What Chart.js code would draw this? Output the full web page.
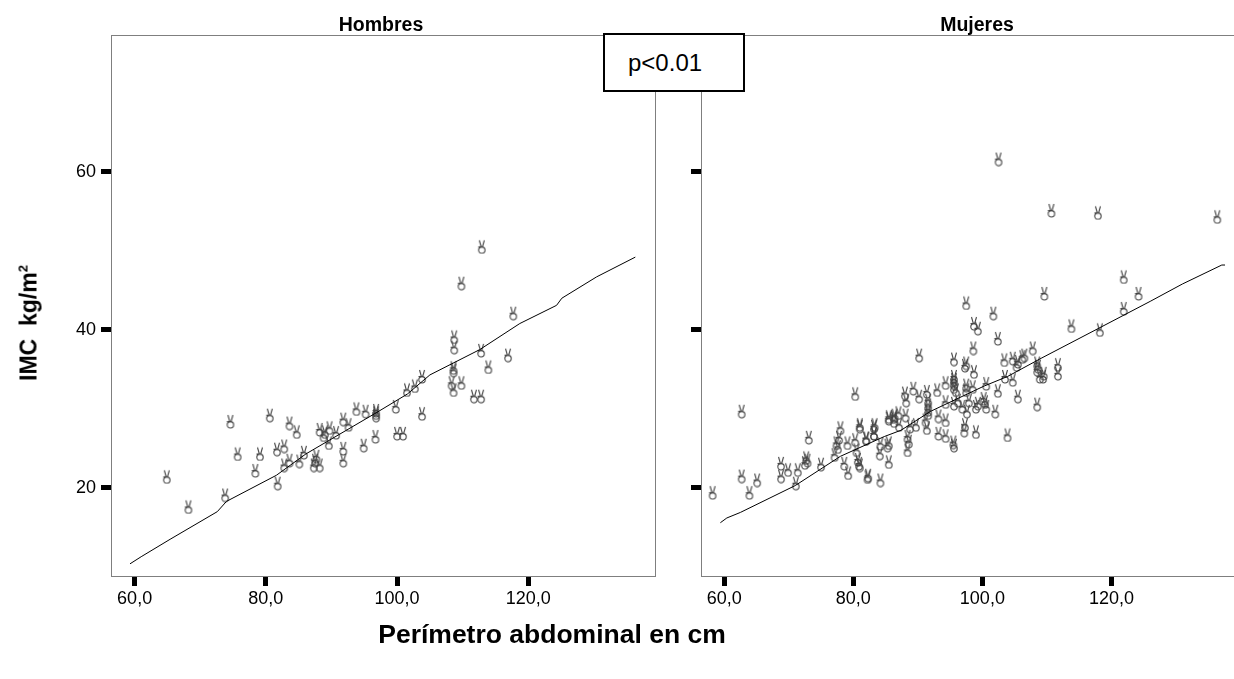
<!DOCTYPE html>
<html><head><meta charset="utf-8">
<script src="https://cdn.jsdelivr.net/npm/chart.js@4/dist/chart.umd.min.js"></script>
<style>
html,body{margin:0;padding:0;background:#fff;overflow:hidden;width:1234px;height:679px;}
#wrap{position:relative;width:1234px;height:679px;overflow:hidden;font-family:"Liberation Sans",Arial,sans-serif;}
canvas{position:absolute;left:0;top:0;}
.t{position:absolute;font-weight:bold;color:#000;white-space:nowrap;}
#pbox{position:absolute;left:603px;top:33px;width:138px;height:55px;border:2px solid #000;background:#fff;z-index:5;font-size:24px;line-height:55px;text-indent:23px;}
</style></head><body>
<div id="wrap">
<div style="position:absolute;left:0;top:0;width:680px;height:679px"><canvas id="c1" width="680" height="679"></canvas></div>
<div style="position:absolute;left:600px;top:0;width:700px;height:679px"><canvas id="c2" width="700" height="679"></canvas></div>
<div class="t" style="left:381px;top:13px;font-size:19.5px;transform:translateX(-50%)">Hombres</div>
<div class="t" style="left:977px;top:13px;font-size:19.5px;transform:translateX(-50%)">Mujeres</div>
<div id="pbox">p&lt;0.01</div>
<div class="t" style="left:29px;top:323px;font-size:23px;transform:translate(-50%,-50%) rotate(-90deg)">IMC&nbsp;&nbsp;kg/m<sup style="font-size:13px">2</sup></div>
<div class="t" style="left:552px;top:619px;font-size:26.5px;transform:translateX(-50%)">Perímetro abdominal en cm</div>
</div>
<script>
// ---- data ----
const xTicks = [60, 80, 100, 120];
const yTicks = [20, 40, 60];
const menPoints = [
 [64.9,21.4],[68.2,17.6],[74.6,28.4],[73.8,19.1],[75.7,24.3],[80.6,29.2],[78.4,22.2],[79.1,24.3],
 [81.8,20.6],[81.7,24.9],[82.8,25.3],[83.6,28.2],[84.7,27.1],[82.8,22.9],[83.6,23.5],[85.1,23.4],
 [85.8,24.5],[87.5,23.5],[87.3,22.9],[88.2,22.9],[87.7,24.0],[88.2,27.4],[89.0,27.1],[89.7,27.6],
 [88.8,26.7],[90.7,27.0],[89.6,25.7],[91.8,28.7],[92.6,28.0],[93.8,30.0],[95.2,29.7],[96.8,29.2],
 [96.8,29.5],[96.8,29.8],[91.8,25.0],[91.8,23.5],[94.9,25.4],[96.7,26.5],[99.8,30.3],[100.0,26.9],
 [100.9,26.9],[101.5,32.4],[112.9,50.5],[109.8,45.9],[117.7,42.1],[108.7,39.1],[108.7,37.8],[112.8,37.4],
 [116.9,36.8],[113.9,35.3],[108.6,34.9],[108.6,35.2],[108.3,33.3],[109.8,33.3],[108.6,32.4],[111.7,31.6],
 [112.8,31.6],[103.8,34.1],[102.7,32.9],[103.8,29.4]
];
const womenPoints = [
 [58.2,19.4],[62.7,29.7],[62.7,21.5],[63.9,19.4],[65.1,21.0],[68.8,23.1],[68.8,21.5],[69.9,22.3],
 [71.1,20.6],[71.4,22.3],[72.9,23.5],[72.7,23.8],[72.5,23.2],[73.1,26.4],[75.0,23.0],[78.0,27.6],
 [77.4,25.7],[77.8,26.4],[77.6,25.2],[77.1,24.2],[79.1,25.7],[78.6,23.1],[79.2,21.9],[80.3,31.9],
 [80.3,26.1],[81.0,28.0],[80.5,24.8],[80.9,23.1],[80.7,23.6],[81.0,22.9],[82.2,21.4],[82.3,21.6],
 [82.0,26.3],[83.3,28.0],[83.2,26.9],[84.1,24.4],[84.2,21.0],[85.5,23.3],[85.3,25.4],[85.5,29.0],
 [86.4,29.2],[86.3,28.5],[87.0,29.5],[87.1,28.0],
 [90.2,36.8],[97.5,43.4],[101.7,42.1],[98.7,40.8],[99.3,40.2],[102.4,38.9],[98.6,37.7],[95.6,36.3],
 [97.5,35.8],[97.3,35.5],[98.7,34.7],[103.4,36.2],[104.7,36.4],[106.2,36.6],[107.8,37.7],[108.6,35.4],
 [103.5,34.1],[104.7,33.7],[105.5,36.0],[100.6,33.2],[102.4,32.3],[105.5,31.6],[108.5,30.6],[102.0,29.7],
 [103.9,26.7],
 [95.6,34.1],[95.6,33.7],[95.6,33.3],[95.6,32.8],[95.9,32.4],[94.3,33.3],[93.0,32.4],[91.4,32.2],
 [90.2,31.6],[89.3,32.6],[88.0,32.0],[88.2,31.1],[91.6,31.1],[91.6,30.5],[91.6,29.9],[91.6,29.5],
 [91.2,28.6],[91.4,27.6],[94.3,30.9],[95.6,30.7],[96.2,31.1],[97.5,32.4],[97.5,33.0],[97.9,31.1],
 [98.5,32.8],[99.3,30.7],[100.4,30.9],[100.6,30.3],[100.2,31.3],[97.3,28.0],[97.2,27.3],[99.0,27.1],
 [95.6,25.4],[95.5,25.8],[94.3,26.6],[93.2,26.9],[94.3,28.6],[93.2,29.1],[89.7,28.0],[88.8,27.8],
 [88.1,29.2],[86.3,29.0],[85.5,28.8],[88.4,26.5],[88.4,24.8],[88.6,25.9],[85.5,25.7],[84.2,25.6],
 [83.2,27.8],[83.2,26.9],[81.0,27.8],[82.0,26.3],[108.9,34.1],[99.0,30.3],[96.9,30.3],[97.6,29.7],
 [102.5,61.6],[110.7,55.1],[117.9,54.8],[136.4,54.3],[121.9,46.7],[124.2,44.6],[121.9,42.7],[109.6,44.6],
 [113.8,40.5],[118.2,40.0],[106.5,36.8],[105.3,35.6],[108.5,35.8],[108.5,35.0],[109.5,34.5],[109.4,34.1],
 [111.7,35.6],[111.7,34.5]
];
const menFit = [
 [59.3,10.4],[61.0,11.3],[65.4,13.5],[72.6,17.0],[74.0,18.3],[81.6,21.6],[86.1,24.3],[96.8,29.5],
 [101.6,31.9],[105.0,34.3],[112.6,37.5],[118.7,40.8],[124.3,43.1],[125.1,44.0],[130.4,46.7],[136.3,49.2]
];
const womenFit = [
 [59.4,15.6],[60.4,16.2],[62.5,16.9],[71.0,20.3],[78.0,24.0],[84.8,26.5],[87.4,27.3],[92.0,29.7],
 [100.3,32.9],[103.9,34.1],[109.1,36.4],[118.5,40.4],[126.0,43.6],[131.0,45.8],[137.1,48.2],[137.6,48.2]
];
const xRange = [56.4, 139.3];
const yRange = [8.86, 77.3];

// ---- marker glyph (victory hand) ----
function handGlyph(){
  const c = document.createElement('canvas'); c.width = 10; c.height = 15;
  const g = c.getContext('2d');
  g.strokeStyle = '#444'; g.lineWidth = 1.1;
  g.beginPath(); g.moveTo(2.5,1); g.lineTo(4.5,8); g.moveTo(7.5,1); g.lineTo(5.5,8); g.stroke();
  g.beginPath(); g.moveTo(1.5,7.5); g.lineTo(6,7.5); g.stroke();
  g.beginPath(); g.arc(5,10.8,3.2,0,Math.PI*2); g.stroke();
  return c;
}
const glyph = handGlyph();
const toXY = a => a.map(p => ({x:p[0], y:p[1]}));

const framePlugin = {
  id:'frame',
  beforeDatasetsDraw(chart){
    const a = chart.chartArea, ctx = chart.ctx;
    ctx.save(); ctx.strokeStyle = '#7f7f7f'; ctx.lineWidth = 1;
    ctx.strokeRect(Math.round(a.left)+0.5, Math.round(a.top)+0.5, Math.round(a.right-a.left), Math.round(a.bottom-a.top));
    ctx.restore();
  }
};

function makeChart(id, pts, fit, yWidth, padRight, showYLabels){
  return new Chart(document.getElementById(id), {
    type:'scatter',
    data:{datasets:[
      {data:toXY(fit), showLine:true, borderColor:'#000', borderWidth:1, pointRadius:0, tension:0, order:1},
      {data:toXY(pts), pointStyle:glyph, pointRadius:5, showLine:false, order:2}
    ]},
    options:{
      responsive:false, animation:false, devicePixelRatio:1,
      layout:{padding:{top:35, right:padRight, left:0, bottom:0}},
      plugins:{legend:{display:false}, tooltip:{enabled:false}},
      scales:{
        x:{type:'linear', min:xRange[0], max:xRange[1],
           afterBuildTicks:s=>{s.ticks = xTicks.map(v=>({value:v}));},
           afterFit:s=>{s.height = 103;},
           ticks:{color:'#000', font:{size:18, family:'Liberation Sans'}, padding:2, maxRotation:0,
                  callback:v=>v.toFixed(1).replace('.',',')},
           grid:{drawOnChartArea:false, drawTicks:true, tickLength:10, tickWidth:5, tickColor:'#000'},
           border:{display:false}},
        y:{type:'linear', min:yRange[0], max:yRange[1],
           afterBuildTicks:s=>{s.ticks = yTicks.map(v=>({value:v}));},
           afterFit:s=>{s.width = yWidth;},
           ticks:{display:showYLabels, color:'#000', font:{size:18, family:'Liberation Sans'}, padding:5},
           grid:{drawOnChartArea:false, drawTicks:true, tickLength:10, tickWidth:5, tickColor:'#000'},
           border:{display:false}}
      }
    },
    plugins:[framePlugin]
  });
}
makeChart('c1', menPoints, menFit, 111, 25, true);
makeChart('c2', womenPoints, womenFit, 101, 64, false);
</script>
</body></html>
